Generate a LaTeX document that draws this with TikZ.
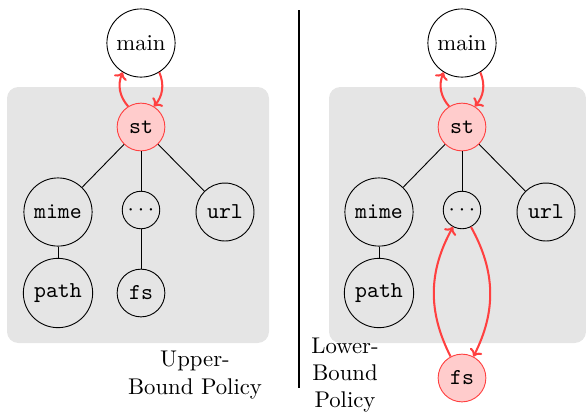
\documentclass[tikz,border=0pt]{standalone}
\usetikzlibrary{arrows.meta}
\definecolor{arrred}{RGB}{255,64,64}
\begin{document}
\begin{tikzpicture}[x=0.44pt,y=-0.44pt,
  pkg/.style={circle,draw,inner sep=0pt,font=\ttfamily},
  hot/.style={pkg,draw=arrred,fill=red!20},
  dep/.style={draw,line width=0.4pt},
  flow/.style={draw=arrred,line width=0.9pt,-{To[length=3pt,width=6pt]}},
  panel/.style={fill=black!10,rounded corners=5pt},
  lbl/.style={align=center,font=\normalsize}]
\useasboundingbox (0,0) rectangle (586,417);
% panels
\fill[panel] (7,87) rectangle (269,343);
\fill[panel] (329,87) rectangle (586,343);
\draw[line width=0.45pt] (299,10) -- (299,388);
% left
\node[pkg,minimum size=30pt,font=\normalsize] (mainL) at (141,43) {main};
\node[hot,minimum size=21pt] (stL) at (141,127) {st};
\node[pkg,minimum size=30pt] (mimeL) at (58,212) {mime};
\node[pkg,minimum size=16.5pt,font=\normalsize] (dotsL) at (141,210) {$\cdots$};
\node[pkg,minimum size=25.5pt] (urlL) at (225,212) {url};
\node[pkg,minimum size=30.5pt] (pathL) at (58,293) {path};
\node[pkg,minimum size=21pt] (fsL) at (141,293) {fs};
\draw[dep] (stL) -- (mimeL);
\draw[dep] (stL) -- (dotsL);
\draw[dep] (stL) -- (urlL);
\draw[dep] (mimeL) -- (pathL);
\draw[dep] (dotsL) -- (fsL);
\draw[flow] (stL) to[bend left=32] (mainL);
\draw[flow] (mainL) to[bend left=32] (stL);
\node[lbl] (upL) at (195,375) {Upper-\\Bound Policy};
% right
\node[pkg,minimum size=30pt,font=\normalsize] (mainR) at (462,43) {main};
\node[hot,minimum size=21pt] (stR) at (462,127) {st};
\node[pkg,minimum size=30pt] (mimeR) at (379,212) {mime};
\node[pkg,minimum size=16.5pt,font=\normalsize] (dotsR) at (462,210) {$\cdots$};
\node[pkg,minimum size=25.5pt] (urlR) at (546,212) {url};
\node[pkg,minimum size=30.5pt] (pathR) at (379,293) {path};
\node[hot,minimum size=21pt] (fsR) at (462,378) {fs};
\draw[dep] (stR) -- (mimeR);
\draw[dep] (stR) -- (dotsR);
\draw[dep] (stR) -- (urlR);
\draw[dep] (mimeR) -- (pathR);
\draw[flow] (stR) to[bend left=32] (mainR);
\draw[flow] (mainR) to[bend left=32] (stR);
\draw[flow] (fsR) to[bend left=28] (dotsR);
\draw[flow] (dotsR) to[bend left=28] (fsR);
\node[lbl] (loR) at (345,375) {Lower-\\Bound\\Policy};
\end{tikzpicture}
\end{document}
